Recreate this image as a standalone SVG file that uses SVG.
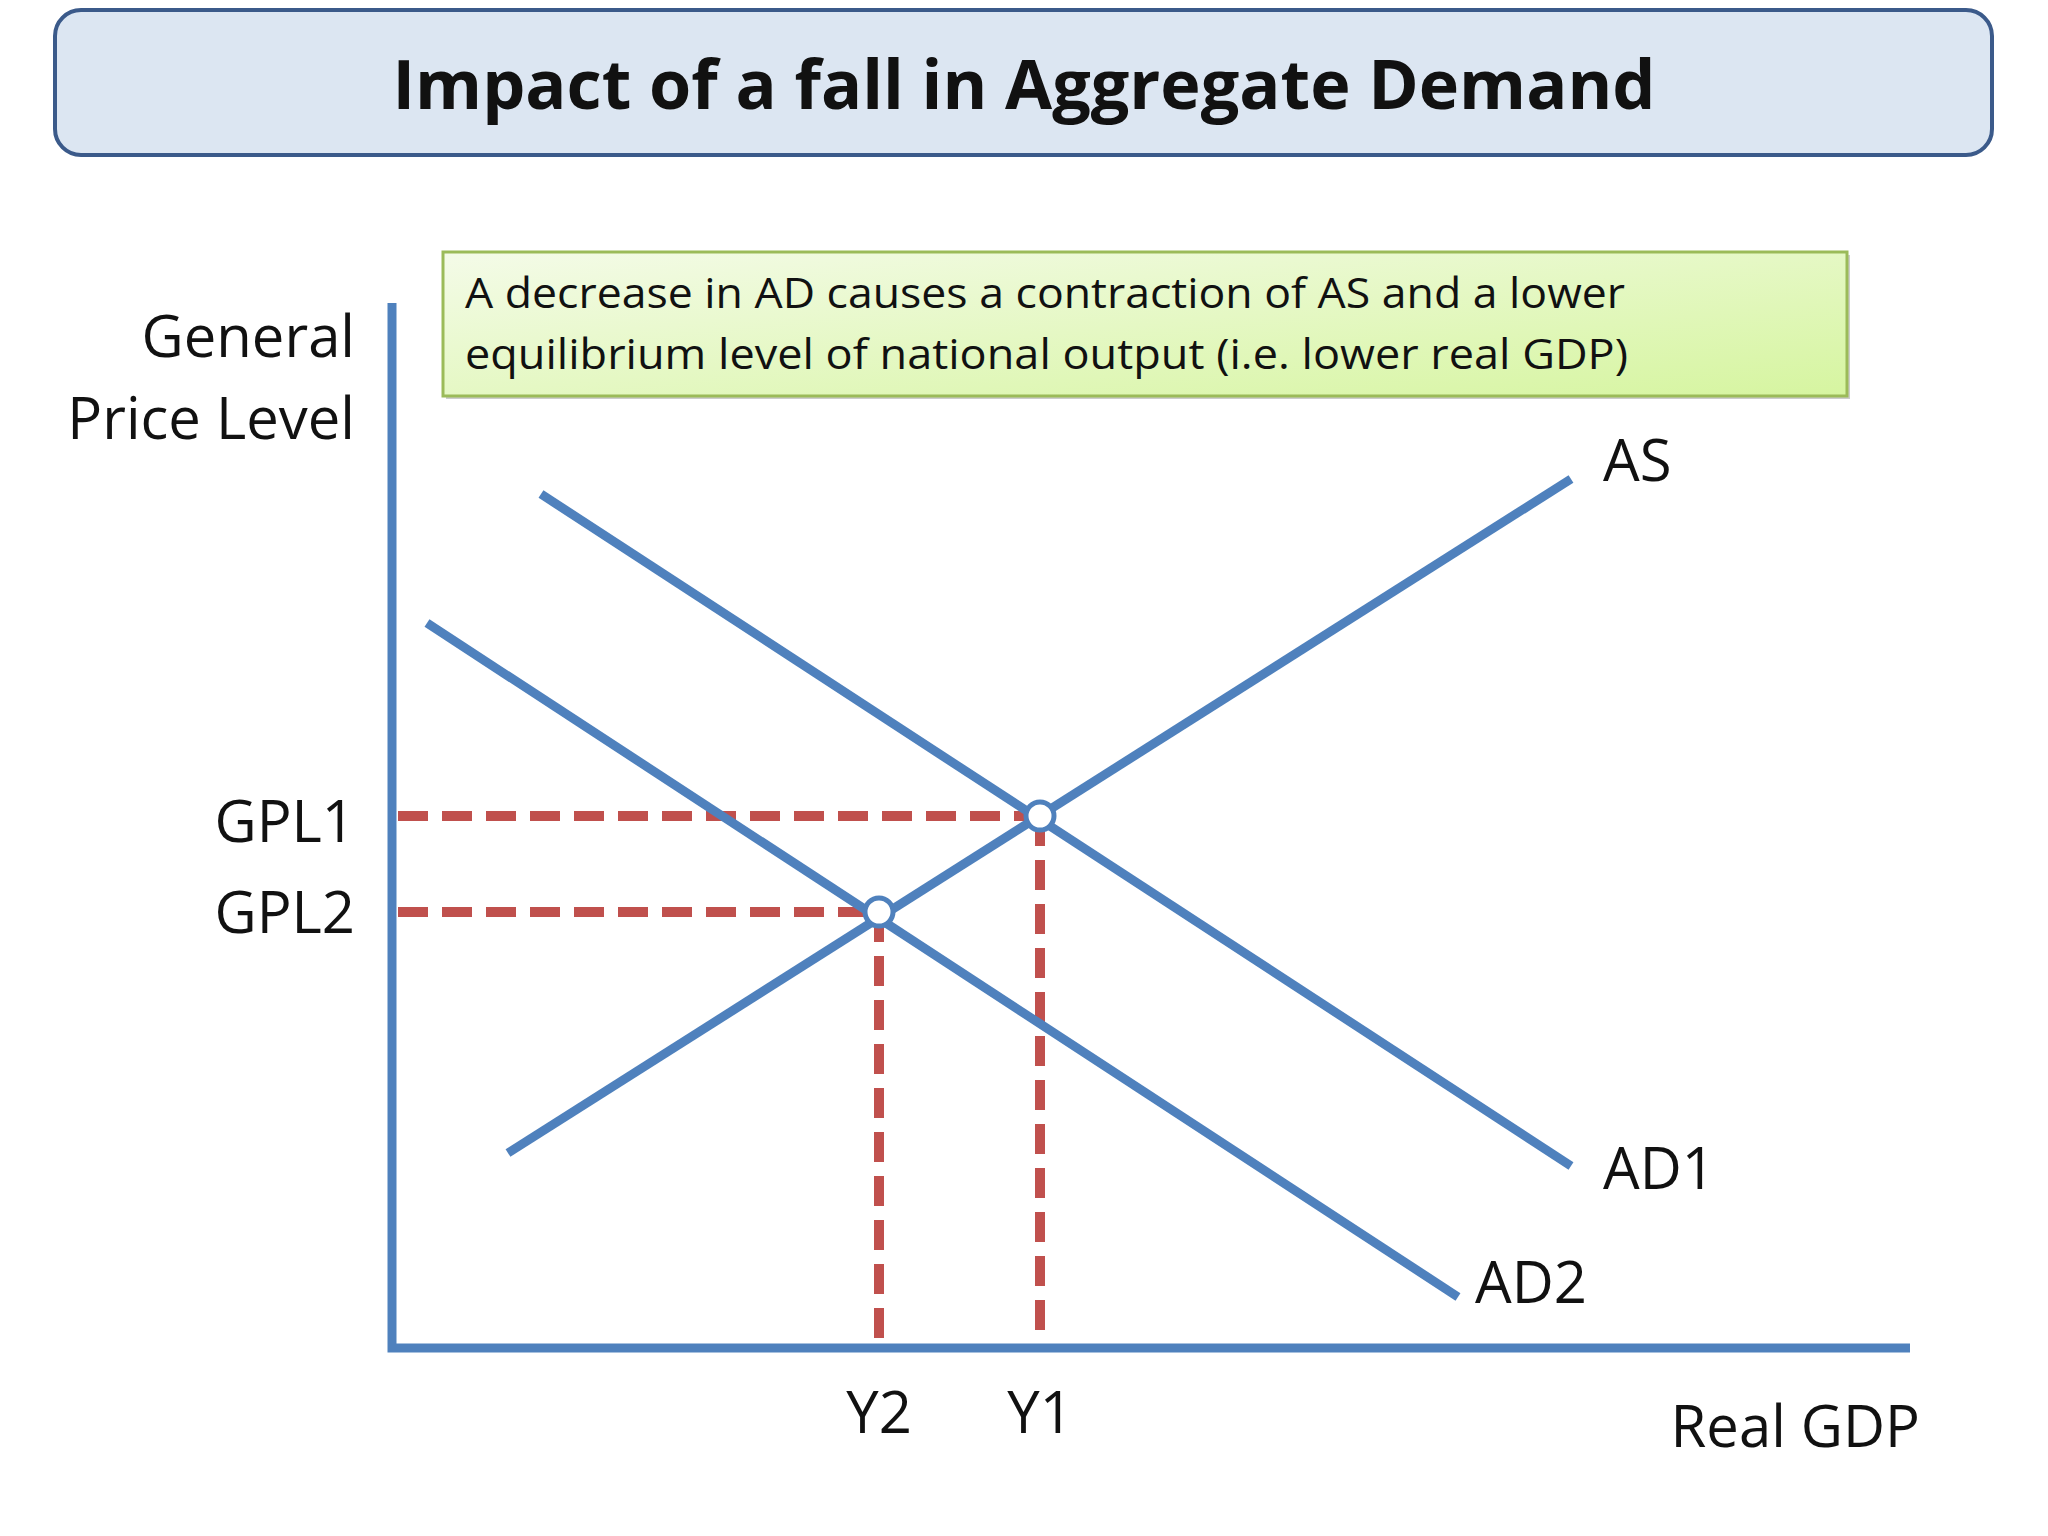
<svg xmlns="http://www.w3.org/2000/svg" width="2048" height="1536" viewBox="0 0 2048 1536">
<defs>
<linearGradient id="g" x1="0" y1="0" x2="1" y2="1"><stop offset="0" stop-color="#f4fbe8"/><stop offset="1" stop-color="#d6f5a0"/></linearGradient>
<style>
.t{font-family:"Open Sans","Liberation Sans",sans-serif;fill:#111}
.lab{font-size:58px}
.ax{stroke:#4f81bd;stroke-width:9;fill:none}
.cv{stroke:#4f81bd;stroke-width:9;fill:none}
.d{stroke:#c0504d;stroke-width:10;stroke-dasharray:30 14;fill:none}
.eq{fill:#fff;stroke:#4f81bd;stroke-width:5}
</style>
</defs>
<rect width="2048" height="1536" fill="#fff"/>
<g id="title"><rect x="55" y="10" width="1937" height="145" rx="26" fill="#dce6f2" stroke="#3b5a8a" stroke-width="4"/>
<text class="t" x="1024" y="109" text-anchor="middle" font-size="68" font-weight="bold" textLength="1263" lengthAdjust="spacingAndGlyphs">Impact of a fall in Aggregate Demand</text></g>
<g id="note"><rect x="446" y="255" width="1404" height="144" fill="#ccc"/><rect x="443" y="252" width="1404" height="144" fill="url(#g)" stroke="#9bbb59" stroke-width="3"/>
<text class="t" x="465" y="308" font-size="42" textLength="1160" lengthAdjust="spacingAndGlyphs">A decrease in AD causes a contraction of AS and a lower</text>
<text class="t" x="465" y="369" font-size="42" textLength="1163" lengthAdjust="spacingAndGlyphs">equilibrium level of national output (i.e. lower real GDP)</text></g>
<g id="connectors">
<path class="d" d="M398 816H1040M398 912H879M1040 816V1348M879 912V1348"/>
<path class="ax" d="M392 303V1348H1910"/>
<path class="cv" d="M508 1153L1571 479"/>
<path class="cv" d="M541 494L1571 1166"/>
<path class="cv" d="M427 623L1458 1297"/>
</g>
<g id="eq1"><circle class="eq" cx="1040" cy="816" r="14"/></g>
<g id="eq2"><circle class="eq" cx="879" cy="912" r="14"/></g>
<g id="labels" class="t lab">
<text x="355" y="357" text-anchor="end">General</text>
<text x="355" y="439" text-anchor="end">Price Level</text>
<text x="355" y="842" text-anchor="end">GPL1</text>
<text x="355" y="933" text-anchor="end">GPL2</text>
<text x="879" y="1433" text-anchor="middle">Y2</text>
<text x="1040" y="1433" text-anchor="middle">Y1</text>
<text x="1920" y="1447" text-anchor="end">Real GDP</text>
<text x="1603" y="481">AS</text>
<text x="1603" y="1189">AD1</text>
<text x="1475" y="1303">AD2</text>
</g>
</svg>
